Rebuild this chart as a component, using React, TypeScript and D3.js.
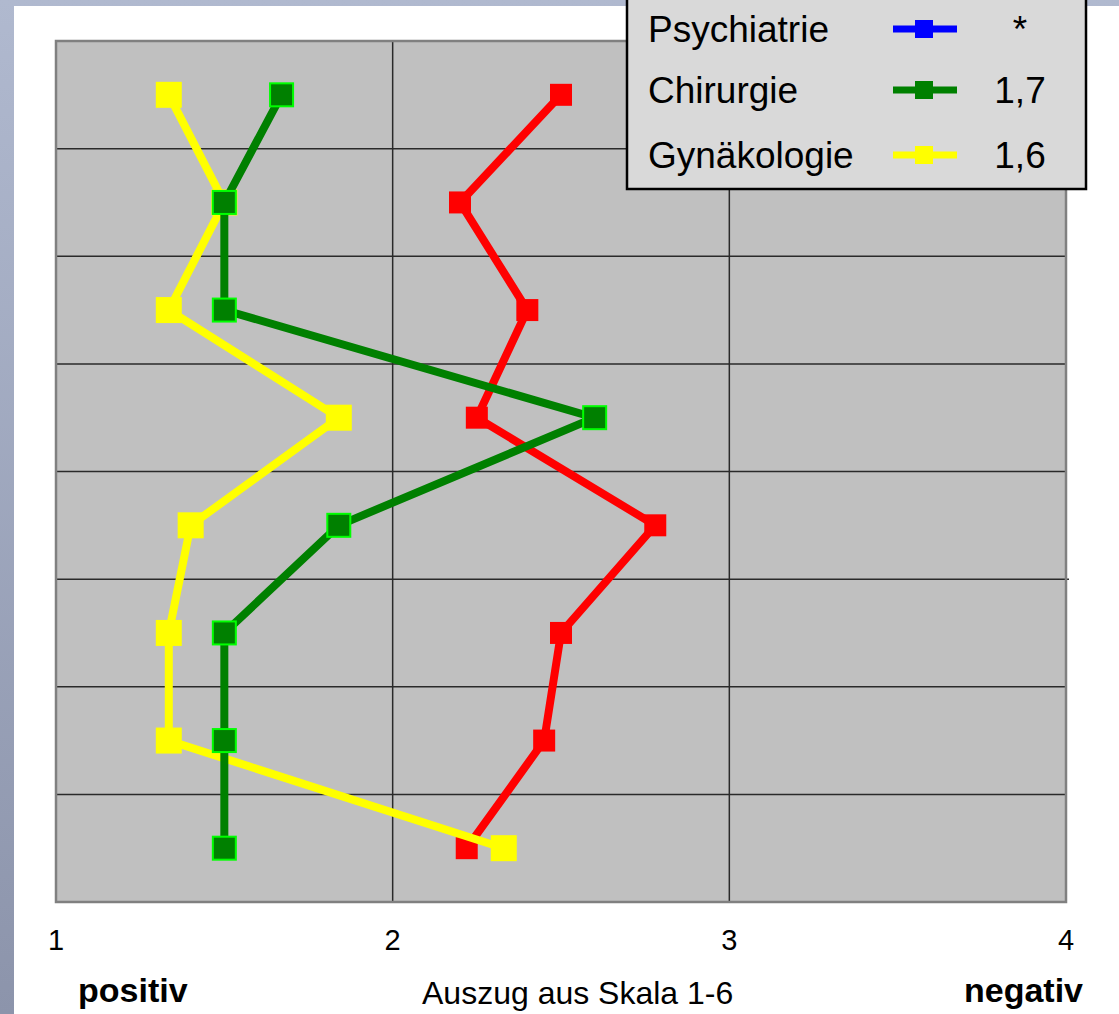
import React from "react";
import * as d3 from "d3";

const W = 1119;
const H = 1014;

const categories = ["1", "2", "3", "4", "5", "6", "7", "8"];
const redValues = [2.5, 2.2, 2.4, 2.25, 2.78, 2.5, 2.45, 2.22];
const chirurgieValues = [1.67, 1.5, 1.5, 2.6, 1.84, 1.5, 1.5, 1.5];
const gynValues = [1.335, 1.5, 1.335, 1.84, 1.4, 1.335, 1.335, 2.33];
const xTicks = [1, 2, 3, 4];
const legendNames = ["Psychiatrie", "Chirurgie", "Gynäkologie"];
const legendValues = ["*", "1,7", "1,6"];
const legendColors = ["#0000ff", "#008000", "#ffff00"];

const plot = { left: 56, right: 1066, top: 41, bottom: 902 };

export default function App() {
  const x = d3.scaleLinear().domain([1, 4]).range([plot.left, plot.right]);
  const y = d3
    .scalePoint<string>()
    .domain(categories)
    .range([plot.top, plot.bottom])
    .padding(0.5);
  const step = y.step();
  const hLines = categories.slice(1).map((c) => (y(c) as number) - step / 2);

  const line = d3
    .line<number>()
    .x((d) => x(d))
    .y((_, i) => y(categories[i]) as number);

  const font = "'Liberation Sans', Arial, Helvetica, sans-serif";

  const series = [
    { vals: redValues, color: "#ff0000", size: 22, stroke: "none" },
    { vals: gynValues, color: "#ffff00", size: 26, stroke: "none" },
    { vals: chirurgieValues, color: "#008000", size: 23, stroke: "#00ff00" },
  ];

  return (
    <svg
      width={W}
      height={H}
      style={{ position: "absolute", left: 0, top: 0, display: "block" }}
    >
      <defs>
        <linearGradient id="slideBg" x1="0" y1="0" x2="0" y2="1">
          <stop offset="0" stopColor="#b0b9cf" />
          <stop offset="1" stopColor="#8c94ab" />
        </linearGradient>
      </defs>
      <rect x={0} y={0} width={W} height={H} fill="url(#slideBg)" />
      <rect x={14} y={6} width={W - 14} height={H - 6} fill="#ffffff" />

      {/* plot area */}
      <rect
        x={plot.left}
        y={plot.top}
        width={plot.right - plot.left}
        height={plot.bottom - plot.top}
        fill="#c0c0c0"
      />
      {hLines.map((yy, i) => (
        <line
          key={"h" + i}
          x1={i === 4 ? plot.left - 1 : plot.left}
          x2={i === 4 ? plot.right + 3 : plot.right}
          y1={yy}
          y2={yy}
          stroke="#2a2a2a"
          strokeWidth={1.5}
        />
      ))}
      {xTicks.slice(1, -1).map((t) => (
        <line
          key={"v" + t}
          x1={x(t)}
          x2={x(t)}
          y1={plot.top}
          y2={plot.bottom}
          stroke="#2a2a2a"
          strokeWidth={1.5}
        />
      ))}
      <rect
        x={plot.left}
        y={plot.top}
        width={plot.right - plot.left}
        height={plot.bottom - plot.top}
        fill="none"
        stroke="#808080"
        strokeWidth={2.5}
      />

      {/* series */}
      {series.map((s, si) => (
        <g key={"s" + si}>
          <path
            d={line(s.vals) || ""}
            fill="none"
            stroke={s.color}
            strokeWidth={8}
            strokeLinejoin="miter"
          />
          {s.vals.map((v, i) => (
            <rect
              key={i}
              x={x(v) - s.size / 2}
              y={(y(categories[i]) as number) - s.size / 2}
              width={s.size}
              height={s.size}
              fill={s.color}
              stroke={s.stroke}
              strokeWidth={s.stroke === "none" ? 0 : 2}
            />
          ))}
        </g>
      ))}

      {/* x tick labels */}
      {xTicks.map((t) => (
        <text
          key={"t" + t}
          x={x(t)}
          y={950}
          textAnchor="middle"
          fontFamily={font}
          fontSize={29}
          fill="#000"
        >
          {t}
        </text>
      ))}

      <text x={78} y={1002} fontFamily={font} fontSize={34} fontWeight="bold" fill="#000">
        positiv
      </text>
      <text x={422} y={1004} fontFamily={font} fontSize={32} fill="#000">
        Auszug aus Skala 1-6
      </text>
      <text
        x={1083}
        y={1002}
        textAnchor="end"
        fontFamily={font}
        fontSize={34}
        fontWeight="bold"
        fill="#000"
      >
        negativ
      </text>

      {/* legend */}
      <rect
        x={627}
        y={-10}
        width={459}
        height={199}
        fill="#d9d9d9"
        stroke="#000"
        strokeWidth={2.5}
      />
      {legendNames.map((name, i) => {
        const cy = [29, 90, 155][i];
        return (
          <g key={"l" + i}>
            <text x={648} y={cy + 13} fontFamily={font} fontSize={37} fill="#000">
              {name}
            </text>
            <line
              x1={893}
              x2={957}
              y1={cy}
              y2={cy}
              stroke={legendColors[i]}
              strokeWidth={7}
            />
            <rect x={915} y={cy - 9} width={18} height={18} fill={legendColors[i]} />
            <text
              x={1020}
              y={cy + 13}
              textAnchor="middle"
              fontFamily={font}
              fontSize={37}
              fill="#000"
            >
              {legendValues[i]}
            </text>
          </g>
        );
      })}
    </svg>
  );
}
